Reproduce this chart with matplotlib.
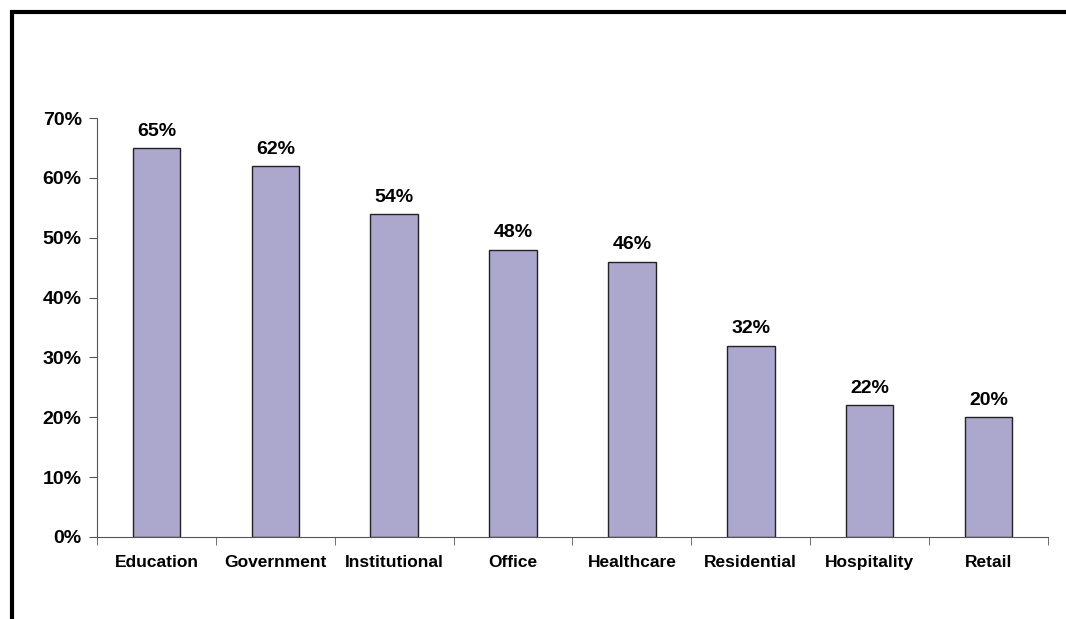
import numpy as np
from matplotlib import pyplot as plt
from matplotlib.patches import Rectangle

categories = ["Education", "Government", "Institutional", "Office",
              "Healthcare", "Residential", "Hospitality", "Retail"]
values = [65, 62, 54, 48, 46, 32, 22, 20]
y_ticks = [0, 10, 20, 30, 40, 50, 60, 70]

plt.rcParams['font.family'] = ['Liberation Sans', 'DejaVu Sans']

fig = plt.figure(figsize=(10.66, 6.19), dpi=100)
ax = fig.add_axes([0.091, 0.1325, 0.892, 0.6766])

x = np.arange(len(categories))
ax.bar(x, values, width=0.4, color="#aba7cd", edgecolor="#222222", linewidth=1)

# value labels above each bar
for xi, v in zip(x, values):
    ax.text(xi, v + 1.4, f"{v}%", ha="center", va="bottom",
            fontsize=14, fontweight="bold")

ax.set_xlim(-0.5, len(categories) - 0.5)
ax.set_ylim(0, 70)
ax.set_yticks(y_ticks)
ax.set_yticklabels([f"{t}%" for t in y_ticks], fontsize=14, fontweight="bold")

# category names centred, tick marks on the boundaries
ax.set_xticks(x)
ax.set_xticklabels(categories, fontsize=12.5, fontweight="bold")
ax.tick_params(axis="x", length=0, pad=13)
ax.set_xticks(np.arange(len(categories) + 1) - 0.5, minor=True)
ax.tick_params(axis="x", which="minor", length=6, color="#555555")
ax.tick_params(axis="y", length=6, color="#555555", pad=5)

for side in ["top", "right"]:
    ax.spines[side].set_visible(False)
for side in ["left", "bottom"]:
    ax.spines[side].set_color("#555555")

# thick outer frame (open to the right and bottom)
fig.add_artist(Rectangle((11.5 / 1066, -0.1), 1.2, 1 - 12 / 619 + 0.1,
                         transform=fig.transFigure, fill=False,
                         edgecolor="black", linewidth=3))

fig.savefig("out.png", dpi=100)
